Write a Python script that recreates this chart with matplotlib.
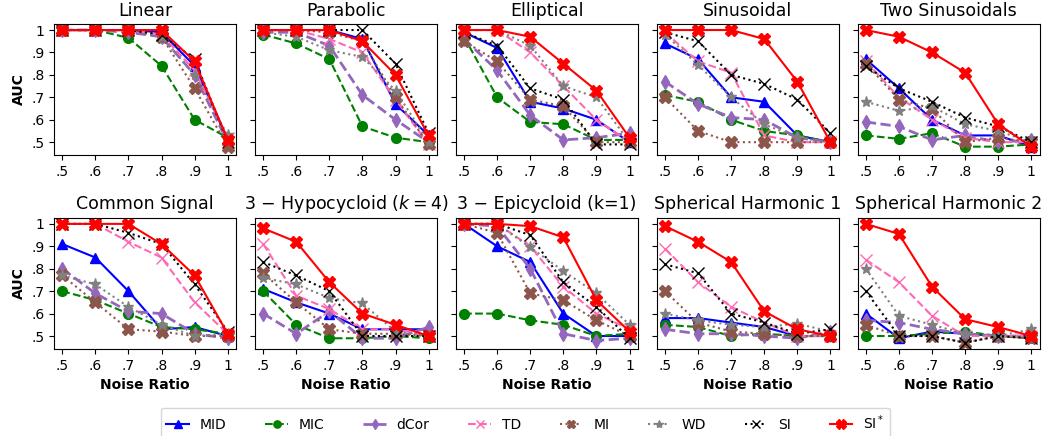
import matplotlib
matplotlib.use("Agg")
import matplotlib.pyplot as plt

# -------------------------
# Data
# -------------------------
noise = [0.5, 0.6, 0.7, 0.8, 0.9, 1.0]
xtick_labels = [".5", ".6", ".7", ".8", ".9", "1"]
yticks = [0.5, 0.6, 0.7, 0.8, 0.9, 1.0]
ytick_labels = [".5", ".6", ".7", ".8", ".9", "1"]

titles = ["Linear", "Parabolic", "Elliptical", "Sinusoidal", "Two Sinusoidals",
          "Common Signal", "3 \u2212 Hypocycloid ($k=4$)", "3 \u2212 Epicycloid (k=1)",
          "Spherical Harmonic 1", "Spherical Harmonic 2"]

mid = [[1, 1, 1, 0.99, 0.84, 0.51],
       [1, 1, 1, 0.96, 0.67, 0.53],
       [0.99, 0.92, 0.68, 0.65, 0.60, 0.50],
       [0.94, 0.87, 0.70, 0.68, 0.53, 0.50],
       [0.87, 0.74, 0.60, 0.53, 0.53, 0.48],
       [0.91, 0.85, 0.70, 0.53, 0.54, 0.50],
       [0.71, 0.65, 0.60, 0.53, 0.53, 0.53],
       [1.0, 0.90, 0.83, 0.60, 0.50, 0.50],
       [0.58, 0.58, 0.56, 0.54, 0.50, 0.50],
       [0.60, 0.49, 0.52, 0.51, 0.50, 0.50]]

mic = [[1, 1, 0.965, 0.84, 0.60, 0.52],
       [0.98, 0.94, 0.87, 0.57, 0.52, 0.50],
       [0.97, 0.70, 0.59, 0.58, 0.51, 0.51],
       [0.71, 0.68, 0.60, 0.55, 0.53, 0.50],
       [0.53, 0.515, 0.54, 0.48, 0.48, 0.49],
       [0.70, 0.66, 0.60, 0.54, 0.53, 0.51],
       [0.70, 0.55, 0.49, 0.49, 0.50, 0.49],
       [0.60, 0.60, 0.57, 0.55, 0.50, 0.51],
       [0.55, 0.54, 0.50, 0.51, 0.50, 0.50],
       [0.50, 0.50, 0.51, 0.52, 0.50, 0.49]]

dcor = [[1, 1, 0.99, 0.97, 0.80, 0.50],
        [0.99, 0.99, 0.93, 0.71, 0.60, 0.50],
        [0.96, 0.82, 0.62, 0.51, 0.52, 0.54],
        [0.77, 0.67, 0.61, 0.60, 0.52, 0.50],
        [0.59, 0.57, 0.51, 0.53, 0.50, 0.51],
        [0.80, 0.69, 0.61, 0.60, 0.51, 0.49],
        [0.60, 0.51, 0.61, 0.49, 0.49, 0.54],
        [1.0, 0.99, 0.80, 0.51, 0.48, 0.49],
        [0.53, 0.51, 0.51, 0.50, 0.49, 0.52],
        [0.57, 0.56, 0.53, 0.51, 0.50, 0.50]]

td = [[1, 1, 1, 0.98, 0.82, 0.52],
      [1, 1, 0.96, 0.90, 0.69, 0.49],
      [1, 1, 0.90, 0.75, 0.60, 0.50],
      [0.99, 0.86, 0.81, 0.53, 0.50, 0.50],
      [0.86, 0.70, 0.60, 0.52, 0.50, 0.50],
      [1, 1, 0.92, 0.85, 0.65, 0.51],
      [0.91, 0.68, 0.62, 0.53, 0.53, 0.50],
      [1, 1, 0.90, 0.72, 0.60, 0.53],
      [0.89, 0.74, 0.63, 0.56, 0.50, 0.50],
      [0.84, 0.74, 0.59, 0.50, 0.50, 0.50]]

mi = [[1, 1, 1, 0.97, 0.74, 0.48],
      [1, 1, 0.99, 0.95, 0.70, 0.49],
      [0.95, 0.86, 0.69, 0.66, 0.50, 0.50],
      [0.70, 0.55, 0.50, 0.50, 0.50, 0.50],
      [0.85, 0.69, 0.65, 0.50, 0.52, 0.50],
      [0.77, 0.65, 0.53, 0.52, 0.50, 0.50],
      [0.78, 0.65, 0.53, 0.51, 0.51, 0.50],
      [1.0, 0.96, 0.69, 0.66, 0.57, 0.50],
      [0.70, 0.56, 0.52, 0.51, 0.50, 0.50],
      [0.55, 0.50, 0.50, 0.47, 0.50, 0.49]]

wd = [[1, 1, 1, 0.97, 0.80, 0.53],
      [0.99, 0.97, 0.91, 0.88, 0.73, 0.50],
      [1, 1, 0.93, 0.75, 0.70, 0.50],
      [0.98, 0.845, 0.70, 0.58, 0.52, 0.50],
      [0.68, 0.64, 0.66, 0.58, 0.55, 0.50],
      [0.77, 0.73, 0.63, 0.55, 0.50, 0.51],
      [0.76, 0.73, 0.67, 0.645, 0.52, 0.50],
      [1, 1, 0.895, 0.79, 0.69, 0.55],
      [0.60, 0.57, 0.55, 0.54, 0.555, 0.52],
      [0.80, 0.59, 0.55, 0.51, 0.50, 0.53]]

si = [[1, 1, 1, 0.98, 0.87, 0.50],
      [1, 1, 1, 1.0, 0.85, 0.54],
      [0.99, 0.93, 0.74, 0.69, 0.49, 0.49],
      [0.99, 0.95, 0.80, 0.76, 0.69, 0.54],
      [0.84, 0.74, 0.68, 0.61, 0.57, 0.50],
      [1, 1, 0.96, 0.91, 0.73, 0.52],
      [0.83, 0.77, 0.70, 0.50, 0.50, 0.50],
      [1, 1, 0.95, 0.74, 0.63, 0.49],
      [0.82, 0.78, 0.60, 0.56, 0.51, 0.53],
      [0.70, 0.50, 0.50, 0.47, 0.50, 0.49]]

si_star = [[1, 1, 1, 1, 0.86, 0.51],
           [1, 1, 1, 0.95, 0.80, 0.53],
           [1, 1, 0.97, 0.85, 0.73, 0.52],
           [1, 1, 1, 0.96, 0.77, 0.50],
           [1.0, 0.97, 0.90, 0.81, 0.58, 0.48],
           [1, 1, 1, 0.91, 0.77, 0.51],
           [0.98, 0.92, 0.74, 0.60, 0.55, 0.50],
           [1, 1, 0.99, 0.94, 0.66, 0.52],
           [0.99, 0.92, 0.83, 0.61, 0.53, 0.50],
           [1.0, 0.955, 0.72, 0.575, 0.54, 0.50]]

# label, data, color, linestyle, marker, linewidth, markersize
methods = [
    ("MID", mid, "blue", "-", "^", 1.5, 7),
    ("MIC", mic, "green", "--", "o", 1.5, 7),
    ("dCor", dcor, "tab:purple", "--", "d", 2.0, 7),
    ("TD", td, "hotpink", "--", "x", 1.5, 8),
    ("MI", mi, "tab:brown", ":", "X", 1.5, 8),
    ("WD", wd, "gray", ":", "*", 1.5, 8),
    ("SI", si, "black", ":", "x", 1.5, 8),
    ("SI$^*$", si_star, "red", "-", "X", 1.5, 9),
]

fig, axes = plt.subplots(2, 5, figsize=(10.49, 4.36), dpi=100, sharey=True)
fig.subplots_adjust(left=0.0515, right=0.991, top=0.945, bottom=0.2,
                    wspace=0.104, hspace=0.48)

for i, ax in enumerate(axes.flat):
    for label, data, color, ls, marker, lw, ms in methods:
        ax.plot(noise, data[i], color=color, linestyle=ls, marker=marker,
                linewidth=lw, markersize=ms, label=label)
    ax.set_title(titles[i], fontsize=12.5)
    ax.set_xticks(noise)
    ax.set_xticklabels(xtick_labels, fontsize=10)
    ax.set_yticks(yticks)
    ax.set_yticklabels(ytick_labels, fontsize=10)
    ax.set_ylim(0.443, 1.027)
    if i >= 5:
        ax.set_xlabel("Noise Ratio", fontsize=10, fontweight="bold")
    if i % 5 == 0:
        ax.set_ylabel("AUC", fontsize=10, fontweight="bold")

handles, labels = axes[0, 0].get_legend_handles_labels()
fig.legend(handles, labels, loc="upper center", bbox_to_anchor=(0.501, 0.081),
           ncol=8, fontsize=10, frameon=True, handlelength=1.6,
           columnspacing=2.8, markerscale=0.75)

plt.savefig("out.png", dpi=100)
